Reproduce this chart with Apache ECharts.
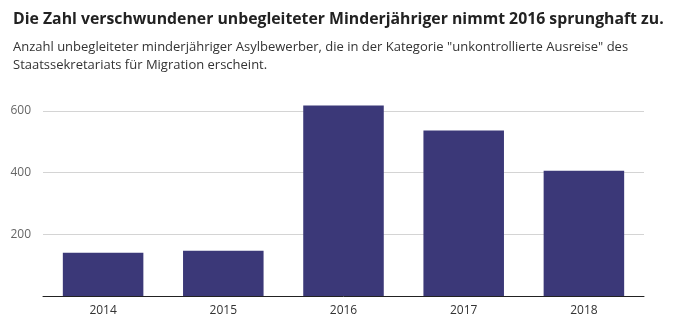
<!DOCTYPE html>
<html><head><meta charset="utf-8">
<script src="https://cdn.jsdelivr.net/npm/echarts@6/dist/echarts.min.js"></script>
<style>html,body{margin:0;padding:0;background:#fff}#c{width:676px;height:329px}</style>
</head><body><div id="c"></div>
<script>
const categories = ['2014','2015','2016','2017','2018'];
const values = [140, 147, 618, 537, 406];
const yTicks = [200, 400, 600];
const titleText = 'Die Zahl verschwundener unbegleiteter Minderjähriger nimmt 2016 sprunghaft zu.';
const subtitleText = 'Anzahl unbegleiteter minderjähriger Asylbewerber, die in der Kategorie "unkontrollierte Ausreise" des\nStaatssekretariats für Migration erscheint.';

const chart = echarts.init(document.getElementById('c'), null, {renderer:'canvas'});
chart.setOption({
  animation:false,
  textStyle:{fontFamily:'Open Sans'},
  title:{
    text:titleText, subtext:subtitleText, left:8, top:6, itemGap:11,
    textStyle:{fontSize:15.8, fontWeight:'bold', color:'#222', fontFamily:'Open Sans'},
    subtextStyle:{fontSize:13, color:'#333', lineHeight:18, fontFamily:'Open Sans'}
  },
  grid:{left:43, right:32, top:111, bottom:33},
  xAxis:{type:'category', data:categories,
    axisLine:{lineStyle:{color:'#222', width:1}}, axisTick:{show:false},
    axisLabel:{color:'#333', fontSize:12, margin:9}},
  yAxis:{type:'value', min:0, max:600, interval:200,
    axisLine:{show:false}, axisTick:{show:false},
    splitLine:{lineStyle:{color:'#d4d4d4'}},
    axisLabel:{color:'#666', fontSize:12, margin:12,
      formatter:v => yTicks.includes(v) ? String(v) : ''}},
  series:[{type:'bar', data:values, barWidth:'67%', clip:false, itemStyle:{color:'#3b3878'}}]
});
</script></body></html>
